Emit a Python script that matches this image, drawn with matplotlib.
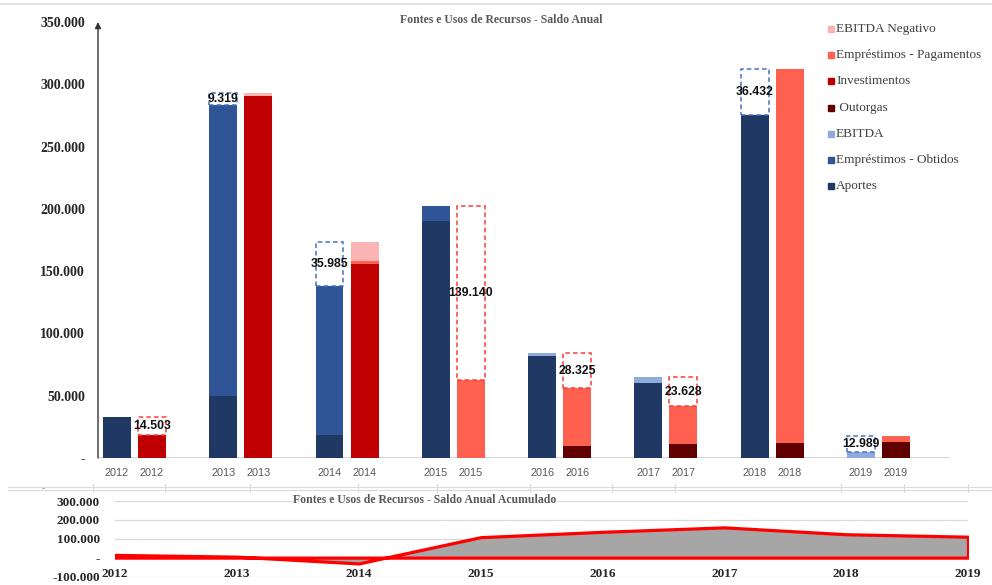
import numpy as np
import matplotlib
matplotlib.use("Agg")
import matplotlib.pyplot as plt
from matplotlib.patches import Rectangle
from matplotlib.lines import Line2D

# dados
anos = ["2012", "2013", "2014", "2015", "2016", "2017", "2018", "2019"]

# fontes
aportes = [33100, 49700, 18400, 190600, 81700, 60600, 275700, 0]
emp_obtidos = [0, 233600, 119400, 11500, 0, 0, 0, 0]
ebitda = [0, 0, 0, 0, 2700, 4500, 0, 4700]

# usos
outorgas = [0, 0, 0, 0, 9600, 11200, 12300, 13100]
investimentos = [18597, 290200, 156000, 0, 0, 0, 0, 0]
emp_pagamentos = [0, 0, 2200, 62960, 46475, 30272, 299832, 4589]
ebitda_neg = [0, 2419, 15585, 0, 0, 0, 0, 0]

saldo = [14503, -9319, -35985, 139140, 28325, 23628, -36432, -12989]
acumulado = [14503, 5184, -30801, 108339, 136664, 160292, 123860, 110871]

c_aportes = "#1F3864"
c_obtidos = "#2F5597"
c_ebitda = "#8FAADC"
c_outorgas = "#600000"
c_invest = "#C00000"
c_pag = "#FF6151"
c_neg = "#FBB4B4"

serif = "Liberation Serif"
sans = "Liberation Sans"

def fmt(v):
    if v == 0:
        return "-"
    return "{:,.0f}".format(v).replace(",", ".")

W, H = 992, 585
fig = plt.figure(figsize=(W / 100, H / 100), dpi=100)

def fx(px):
    return px / W

def fy(py):
    return 1 - py / H

# ---------------- grafico principal ----------------
ax = fig.add_axes([fx(98), fy(458), fx(950) - fx(98), fy(22) - fy(458)])
x = np.arange(len(anos))
w = 0.263
off = 0.165
xs = x - off
xu = x + off

b = np.zeros(len(anos))
for vals, col in [(aportes, c_aportes), (emp_obtidos, c_obtidos), (ebitda, c_ebitda)]:
    ax.bar(xs, vals, w, bottom=b, color=col, zorder=2)
    b = b + np.array(vals)
fontes_tot = b

b = np.zeros(len(anos))
for vals, col in [(outorgas, c_outorgas), (investimentos, c_invest),
                  (emp_pagamentos, c_pag), (ebitda_neg, c_neg)]:
    ax.bar(xu, vals, w, bottom=b, color=col, zorder=2)
    b = b + np.array(vals)
usos_tot = b

# caixas tracejadas com o saldo
for i, s in enumerate(saldo):
    lo = min(fontes_tot[i], usos_tot[i])
    hi = max(fontes_tot[i], usos_tot[i])
    if s > 0:
        xp, ec = xu[i], "#FF3B3B"
    else:
        xp, ec = xs[i], "#4472C4"
    ax.bar(xp, hi - lo, w, bottom=lo, fill=False, edgecolor=ec,
           linestyle=(0, (3, 2)), linewidth=1.1, zorder=3)
    ax.text(xp, (lo + hi) / 2, fmt(abs(s)), ha="center", va="center",
            fontsize=8.8, fontweight="bold", family=sans, color="#111111", zorder=4)

ax.set_xlim(-0.343, 7.673)
ax.set_ylim(0, 350000)
yt = np.arange(0, 350001, 50000)
ax.set_yticks(yt)
ax.set_yticklabels([fmt(v) for v in yt], family=serif, fontweight="bold",
                   fontsize=10, color="#262626")
ax.tick_params(axis="y", length=0, pad=9.4)
ax.set_xticks(np.concatenate([xs, xu]))
ax.set_xticklabels(anos + anos, family=sans, fontsize=7.8, color="#595959")
ax.tick_params(axis="x", length=0, pad=7)
for sp in ax.spines.values():
    sp.set_visible(False)
ax.axhline(0, color="#D0D0D0", linewidth=1.2, zorder=1)
ax.annotate("", xy=(0, 1.0), xytext=(0, 0), xycoords="axes fraction",
            arrowprops=dict(arrowstyle="-|>", color="#333333", lw=1.0,
                            mutation_scale=9, shrinkA=0, shrinkB=0))

fig.text(fx(501), fy(20), "Fontes e Usos de Recursos - Saldo Anual", ha="center",
         va="center", family=serif, fontweight="bold", fontsize=8.5, color="#595959")

# legenda
leg = [("EBITDA Negativo", c_neg), ("Empréstimos - Pagamentos", c_pag),
       ("Investimentos", c_invest), (" Outorgas", c_outorgas), ("EBITDA", c_ebitda),
       ("Empréstimos - Obtidos", c_obtidos), ("Aportes", c_aportes)]
for k, (lab, col) in enumerate(leg):
    py = 29 + 26.2 * k
    fig.patches.append(Rectangle((fx(828), fy(py + 3)), 6 / W, 6 / H,
                                 transform=fig.transFigure, color=col))
    fig.text(fx(836), fy(py), lab, ha="left", va="center", family=serif,
             fontsize=9.5, color="#404040")

# linhas cinzas entre os graficos
fig.add_artist(Line2D([0, 1], [fy(4), fy(4)], color="#E3E3E3", lw=1.5))
for py in [486.5, 490]:
    fig.add_artist(Line2D([fx(8), 1], [fy(py), fy(py)], color="#DADADA", lw=0.8))
for px in [93, 165, 250, 358, 437, 530, 612, 675, 841, 904, 968]:
    fig.add_artist(Line2D([fx(px), fx(px)], [fy(484), fy(492)], color="#DADADA", lw=0.8))
fig.text(fx(43), fy(489), "-", ha="center", va="center", fontsize=6, color="#808080")

# ---------------- grafico acumulado ----------------
ax2 = fig.add_axes([fx(115), fy(576.5), fx(968) - fx(115), fy(501) - fy(576.5)])
xa = np.arange(len(anos))
for g in [-100000, 100000, 200000, 300000]:
    ax2.axhline(g, color="#D9D9D9", linewidth=0.9, zorder=0)
ax2.fill_between(xa, acumulado, 0, facecolor="#A6A6A6", edgecolor="#FF0000",
                 linewidth=2.3, zorder=2)
ax2.set_xlim(0, 7)
ax2.set_ylim(-100000, 300000)
yt2 = [-100000, 0, 100000, 200000, 300000]
ax2.set_yticks(yt2)
ax2.set_yticklabels([fmt(v) for v in yt2], family=serif, fontweight="bold",
                    fontsize=9.5, color="#262626")
ax2.tick_params(axis="y", length=0, pad=11)
ax2.set_xticks([])
for sp in ax2.spines.values():
    sp.set_visible(False)
for i, a in enumerate(anos):
    ax2.text(i, -88000, a, ha="center", va="center", family=serif,
             fontweight="bold", fontsize=9.5, color="#262626", zorder=3)
ax2.patch.set_alpha(0)

fig.text(fx(425), fy(500), "Fontes e Usos de Recursos - Saldo Anual Acumulado",
         ha="center", va="center", family=serif, fontweight="bold", fontsize=8.5,
         color="#595959", bbox=dict(facecolor="white", edgecolor="none", pad=0.5))

fig.savefig("out.png", dpi=100)
